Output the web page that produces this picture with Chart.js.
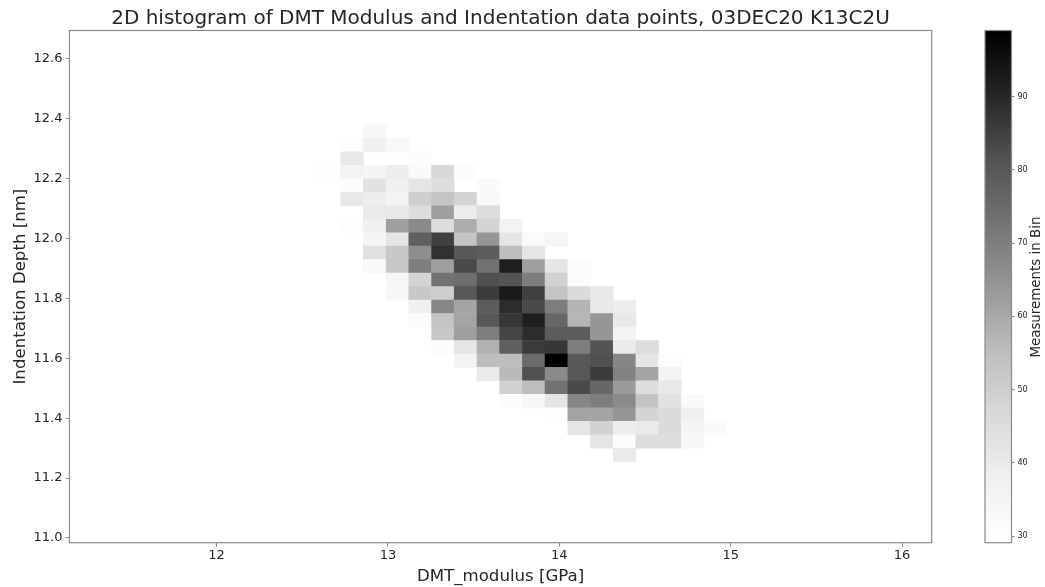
<!DOCTYPE html>
<html>
<head>
<meta charset="utf-8">
<title>2D histogram</title>
<script src="https://cdn.jsdelivr.net/npm/chart.js@4"></script>
<style>
    html, body { margin: 0; padding: 0; background: #fff; overflow: hidden; }
    #myChart { position: absolute; left: 0; top: 0; }
    #colorBar { position: absolute; left: 960px; top: 0; }
</style>
</head>
<body>
<canvas id="myChart" width="1001" height="587"></canvas>
<canvas id="colorBar" width="85" height="587"></canvas>
<script>
const modulusBins = [12.658, 12.791, 12.923, 13.056, 13.188, 13.321, 13.453, 13.586, 13.718,
    13.851, 13.983, 14.116, 14.248, 14.381, 14.513, 14.646, 14.778, 14.911]
const depthBins = [12.357, 12.312, 12.267, 12.222, 12.177, 12.132, 12.087, 12.042, 11.997,
    11.952, 11.907, 11.862, 11.817, 11.772, 11.727, 11.682, 11.637, 11.592,
    11.547, 11.502, 11.457, 11.412, 11.367, 11.322, 11.277]
// one row per depth bin, one column per modulus bin, 0 = nothing drawn
const binCounts = [
    [ 0,  0, 34,  0,  0,  0,  0,  0,  0,  0,  0,  0,  0,  0,  0,  0,  0,  0],
    [ 0, 30, 38, 33,  0,  0,  0,  0,  0,  0,  0,  0,  0,  0,  0,  0,  0,  0],
    [ 0, 41,  0,  0, 31,  0,  0,  0,  0,  0,  0,  0,  0,  0,  0,  0,  0,  0],
    [30, 36, 35, 39, 32, 47, 31,  0,  0,  0,  0,  0,  0,  0,  0,  0,  0,  0],
    [ 0, 31, 43, 38, 42, 45,  0, 32,  0,  0,  0,  0,  0,  0,  0,  0,  0,  0],
    [ 0, 41, 39, 36, 50, 53, 48, 33,  0,  0,  0,  0,  0,  0,  0,  0,  0,  0],
    [ 0,  0, 40, 41, 45, 62, 39, 45,  0,  0,  0,  0,  0,  0,  0,  0,  0,  0],
    [ 0, 30, 38, 62, 67, 45, 59, 48, 36,  0,  0,  0,  0,  0,  0,  0,  0,  0],
    [ 0,  0, 35, 42, 78, 85, 53, 64, 42, 32, 35,  0,  0,  0,  0,  0,  0,  0],
    [ 0,  0, 44, 52, 66, 88, 80, 79, 55, 42,  0,  0,  0,  0,  0,  0,  0,  0],
    [ 0,  0, 32, 52, 70, 62, 83, 73, 92, 62, 42, 31,  0,  0,  0,  0,  0,  0],
    [ 0,  0,  0, 35, 48, 73, 74, 82, 81, 70, 49, 31,  0,  0,  0,  0,  0,  0],
    [ 0,  0,  0, 34, 52, 50, 80, 86, 93, 85, 53, 46, 41,  0,  0,  0,  0,  0],
    [ 0,  0,  0,  0, 38, 68, 61, 79, 89, 83, 70, 57, 41, 39,  0,  0,  0,  0],
    [ 0,  0,  0,  0, 32, 53, 61, 80, 87, 92, 76, 57, 64, 41,  0,  0,  0,  0],
    [ 0,  0,  0,  0,  0, 52, 62, 70, 84, 89, 79, 79, 64, 36,  0,  0,  0,  0],
    [ 0,  0,  0,  0,  0, 31, 42, 58, 78, 86, 87, 70, 81, 40, 45,  0,  0,  0],
    [ 0,  0,  0,  0,  0,  0, 36, 55, 55, 75, 99, 80, 82, 68, 42, 31,  0,  0],
    [ 0,  0,  0,  0,  0,  0,  0, 40, 56, 82, 67, 80, 86, 69, 61, 36,  0,  0],
    [ 0,  0,  0,  0,  0,  0,  0,  0, 49, 55, 73, 83, 76, 63, 45, 41,  0,  0],
    [ 0,  0,  0,  0,  0,  0,  0,  0, 31, 34, 42, 68, 70, 67, 53, 43, 32,  0],
    [ 0,  0,  0,  0,  0,  0,  0,  0,  0,  0, 30, 61, 61, 64, 48, 46, 38,  0],
    [ 0,  0,  0,  0,  0,  0,  0,  0,  0,  0,  0, 42, 49, 39, 40, 46, 35, 32],
    [ 0,  0,  0,  0,  0,  0,  0,  0,  0,  0,  0,  0, 42, 31, 45, 45, 34,  0],
    [ 0,  0,  0,  0,  0,  0,  0,  0,  0,  0,  0,  0,  0, 40,  0,  0,  0,  0]
]
const xTickValues = [12, 13, 14, 15, 16]
const yTickValues = [11.0, 11.2, 11.4, 11.6, 11.8, 12.0, 12.2, 12.4, 12.6]
const barTickValues = [30, 40, 50, 60, 70, 80, 90]
const countRange = [29.1, 99]

const greysStops = [255, 240, 217, 189, 150, 115, 82, 37, 0]
const spineColor = '#8a8a8a'
const textColor = '#262626'
const fontName = '"DejaVu Sans"'

function greyAt(t) {
    let pos = Math.min(Math.max(t, 0), 1) * (greysStops.length - 1)
    let low = Math.floor(pos)
    let high = Math.min(low + 1, greysStops.length - 1)
    let g = Math.round(greysStops[low] + (greysStops[high] - greysStops[low]) * (pos - low))
    return 'rgb(' + g + ',' + g + ',' + g + ')'
}

function countColor(count) {
    return greyAt((count - countRange[0]) / (countRange[1] - countRange[0]))
}

// the frame round the plot, all four sides
const framePlugin = {
    id: 'frame',
    afterDraw(chart) {
        let area = chart.chartArea
        let ctx = chart.ctx
        ctx.save()
        ctx.strokeStyle = spineColor
        ctx.lineWidth = 1.2
        ctx.strokeRect(area.left, area.top, area.right - area.left, area.bottom - area.top)
        ctx.restore()
    }
}

const cells = []
const cellColors = []
const halfDepth = (depthBins[0] - depthBins[1]) / 2
binCounts.forEach((row, r) => {
    row.forEach((count, c) => {
        if (count === 0) return
        cells.push({ x: modulusBins[c], y: [depthBins[r] - halfDepth, depthBins[r] + halfDepth] })
        cellColors.push(countColor(count))
    })
})

new Chart(document.getElementById('myChart').getContext('2d'), {
    type: 'bar',
    data: {
        datasets: [{
            label: 'Measurements in Bin',
            data: cells,
            backgroundColor: cellColors,
            borderWidth: 0,
            barPercentage: 1,
            categoryPercentage: 1
        }]
    },
    plugins: [framePlugin],
    options: {
        responsive: false,
        animation: false,
        layout: { padding: 0 },
        plugins: {
            legend: { display: false },
            tooltip: { enabled: false },
            title: {
                display: true,
                text: '2D histogram of DMT Modulus and Indentation data points, 03DEC20 K13C2U',
                color: textColor,
                font: { family: fontName, size: 20, weight: 'normal', lineHeight: 1 },
                padding: { top: 9, bottom: 1.5 }
            }
        },
        scales: {
            x: {
                type: 'linear',
                offset: false,
                min: 11.142,
                max: 16.173,
                afterBuildTicks: axis => { axis.ticks = xTickValues.map(v => ({ value: v })) },
                afterFit: axis => { axis.height = 44.3 },
                grid: { display: true, offset: false, drawOnChartArea: false, tickLength: 4, tickColor: spineColor },
                border: { display: false },
                ticks: {
                    color: textColor,
                    maxRotation: 0,
                    padding: 1,
                    font: { family: fontName, size: 13 }
                },
                title: {
                    display: true,
                    text: 'DMT_modulus [GPa]',
                    color: textColor,
                    padding: { top: 7, bottom: 0 },
                    font: { family: fontName, size: 16.6 }
                }
            },
            y: {
                type: 'linear',
                min: 10.984,
                max: 12.695,
                afterBuildTicks: axis => { axis.ticks = yTickValues.map(v => ({ value: v })) },
                afterFit: axis => { axis.width = 69.5 },
                grid: { display: true, drawOnChartArea: false, tickLength: 4, tickColor: spineColor },
                border: { display: false },
                ticks: {
                    color: textColor,
                    padding: 3,
                    callback: value => value.toFixed(1),
                    font: { family: fontName, size: 13 }
                },
                title: {
                    display: true,
                    text: 'Indentation Depth [nm]',
                    color: textColor,
                    padding: { top: 11, bottom: 0 },
                    font: { family: fontName, size: 16.6 }
                }
            },
            // empty axis, only keeps the plot clear of the colour bar so the title centres over the plot
            spacer: {
                type: 'linear',
                position: 'right',
                display: true,
                afterFit: axis => { axis.width = 69.3 },
                grid: { display: false },
                border: { display: false },
                ticks: { display: false }
            }
        }
    }
})

// colour bar: one floating bar over the whole count range, filled by the same colour map
const barTitlePlugin = {
    id: 'barTitle',
    afterDraw(chart) {
        let area = chart.chartArea
        let ctx = chart.ctx
        ctx.save()
        ctx.translate(76.5, (area.top + area.bottom) / 2 + 0.5)
        ctx.rotate(-Math.PI / 2)
        ctx.fillStyle = textColor
        ctx.font = '13.4px ' + fontName
        ctx.textAlign = 'center'
        ctx.textBaseline = 'middle'
        ctx.fillText('Measurements in Bin', 0, 0)
        ctx.restore()
    }
}

new Chart(document.getElementById('colorBar').getContext('2d'), {
    type: 'bar',
    data: {
        labels: ['count'],
        datasets: [{
            data: [countRange],
            borderWidth: 0,
            barPercentage: 1,
            categoryPercentage: 1,
            backgroundColor(context) {
                let area = context.chart.chartArea
                if (!area) return '#888'
                let fill = context.chart.ctx.createLinearGradient(0, area.bottom, 0, area.top)
                greysStops.forEach((g, i) => {
                    fill.addColorStop(i / (greysStops.length - 1), greyAt(i / (greysStops.length - 1)))
                })
                return fill
            }
        }]
    },
    plugins: [framePlugin, barTitlePlugin],
    options: {
        responsive: false,
        animation: false,
        layout: { padding: { left: 25, top: 30.5, right: 0, bottom: 44.3 } },
        plugins: {
            legend: { display: false },
            tooltip: { enabled: false }
        },
        scales: {
            x: { display: false },
            y: {
                position: 'right',
                min: countRange[0],
                max: countRange[1],
                afterBuildTicks: axis => { axis.ticks = barTickValues.map(v => ({ value: v })) },
                afterFit: axis => { axis.width = 33.5 },
                grid: { display: true, drawOnChartArea: false, tickLength: 3, tickColor: spineColor },
                border: { display: false },
                ticks: {
                    color: textColor,
                    padding: 3,
                    font: { family: fontName, size: 8 }
                }
            }
        }
    }
})
</script>
</body>
</html>
